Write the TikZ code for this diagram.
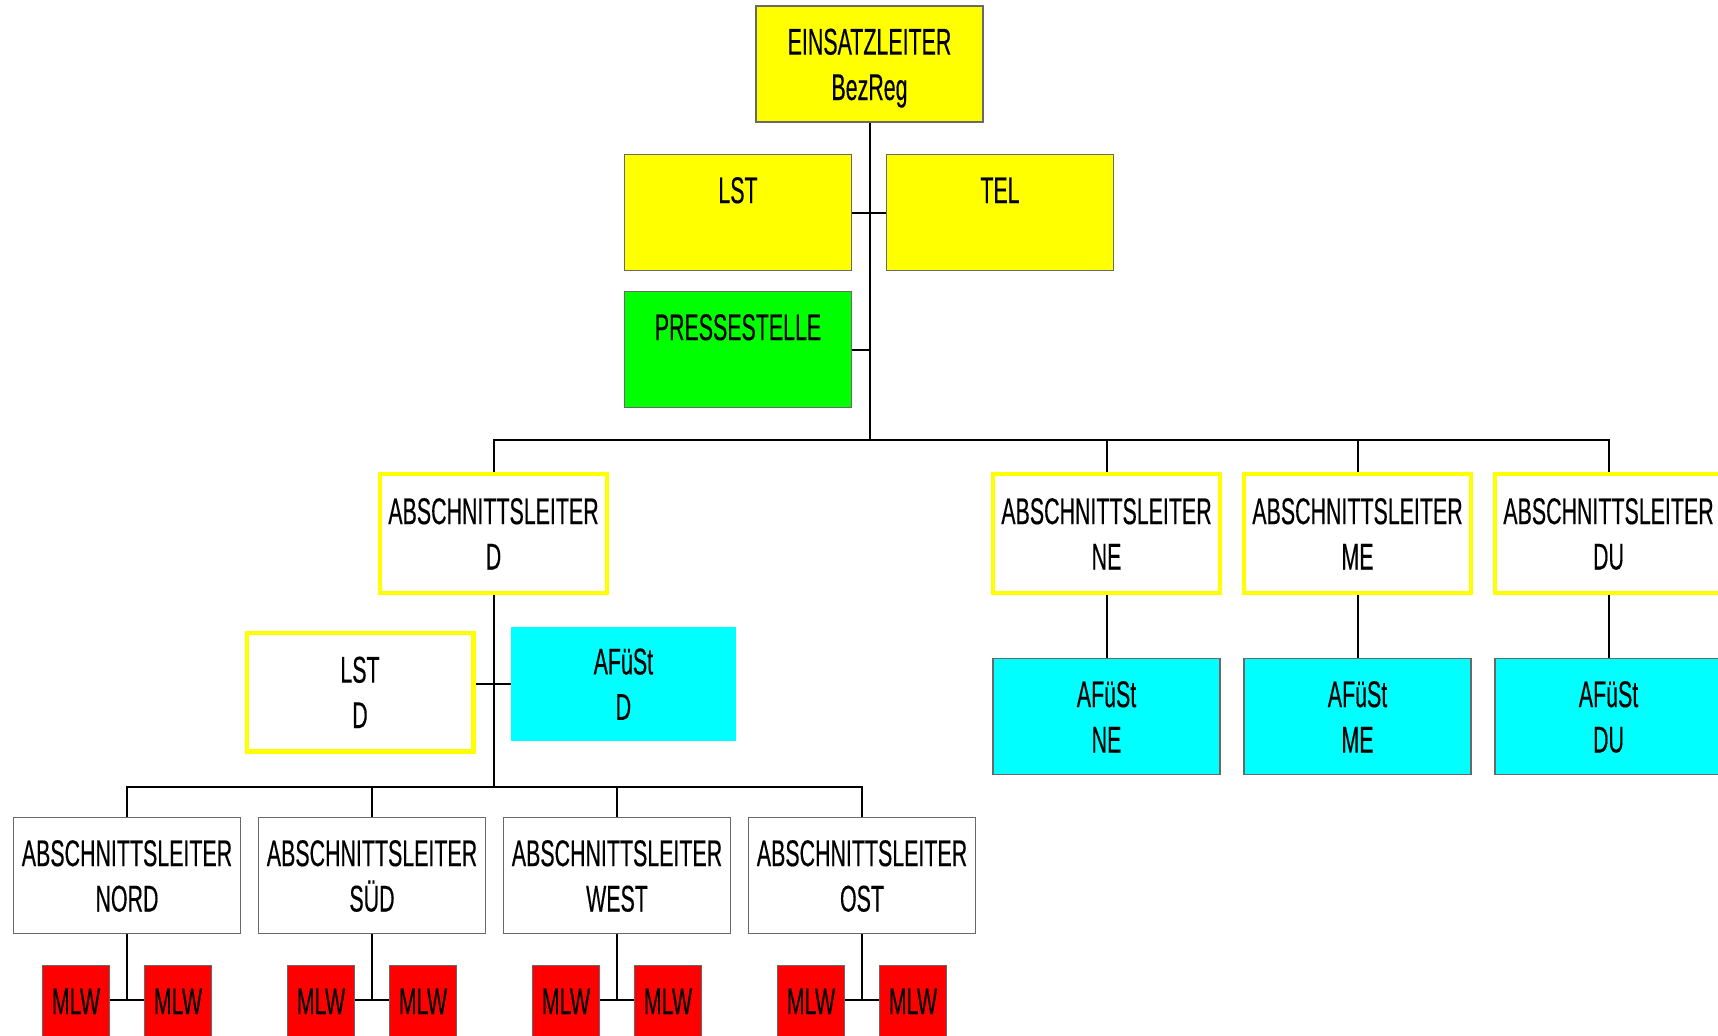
\documentclass[tikz,border=0pt]{standalone}
\usepackage{fontspec}
\setmainfont{Liberation Sans}[FakeStretch=0.575,FakeBold=0.3]
\definecolor{yel}{RGB}{255,255,0}
\definecolor{grn}{RGB}{0,255,0}
\definecolor{cyn}{RGB}{0,255,255}
\definecolor{redbox}{RGB}{255,0,0}
\definecolor{bordergray}{RGB}{105,105,105}
\newcommand\twoline[2]{\rule{0pt}{13.3pt}\smash{#1}\\\smash{#2}}
\tikzset{
  base/.style={inner sep=0pt, align=center, font=\fontsize{18.6}{22.7}\selectfont},
  graybox/.style={base, draw=bordergray, line width=0.7pt, minimum width=113.5pt, minimum height=58pt},
  yelbox/.style={base, draw=yel, line width=2.2pt, fill=white, minimum width=113.3pt, minimum height=59.3pt},
  mlwbox/.style={base, draw=bordergray, line width=0.7pt, fill=redbox, minimum width=33.5pt, minimum height=58pt},
  conn/.style={draw=black, line width=1pt},
}
\begin{document}
\begin{tikzpicture}[x=0.5pt,y=-0.5pt]
\path[use as bounding box] (0,0) rectangle (1718,1035);
\clip (0,0) rectangle (1718,1035);
% top level
\node[graybox, fill=yel] (ein) at (869.5,64) {\twoline{EINSATZLEITER}{BezReg}};
\node[graybox, fill=yel] (lst) at (738,212.5) {\twoline{LST}{}};
\node[graybox, fill=yel] (tel) at (1000,212.5) {\twoline{TEL}{}};
\node[graybox, fill=grn] (presse) at (738,349.5) {\twoline{PRESSESTELLE}{}};
\coordinate (bar) at (869.5,439.5);
% section leaders
\node[yelbox] (abD) at (493.5,533.5) {\twoline{ABSCHNITTSLEITER}{D}};
\node[yelbox] (abNE) at (1106.5,533.5) {\twoline{ABSCHNITTSLEITER}{NE}};
\node[yelbox] (abME) at (1357.5,533.5) {\twoline{ABSCHNITTSLEITER}{ME}};
\node[yelbox] (abDU) at (1608.5,533.5) {\twoline{ABSCHNITTSLEITER}{DU}};
\node[graybox, fill=cyn] (afNE) at (1106.5,716.5) {\twoline{AFüSt}{NE}};
\node[graybox, fill=cyn] (afME) at (1357.5,716.5) {\twoline{AFüSt}{ME}};
\node[graybox, fill=cyn] (afDU) at (1608.5,716.5) {\twoline{AFüSt}{DU}};
\node[yelbox] (lstD) at (360,692) {\twoline{LST}{D}};
\node[base, fill=cyn, minimum width=112.5pt, minimum height=57.25pt] (afD) at (623.4,683.8) {\twoline{AFüSt}{D}};
\coordinate (bar2) at (493.5,786.7);
% connectors, upper part
\draw[conn] (ein.south) -- (bar);
\draw[conn] (lst.east) -- (tel.west);
\draw[conn] (presse.east) -- (presse.east -| ein.south);
\draw[conn] (abD.north) |- (bar) -| (abDU.north);
\draw[conn] (bar) -| (abNE.north);
\draw[conn] (bar) -| (abME.north);
\draw[conn] (abNE.south) -- (afNE.north);
\draw[conn] (abME.south) -- (afME.north);
\draw[conn] (abDU.south) -- (afDU.north);
\draw[conn] (abD.south) -- (bar2);
\draw[conn] (afD.west) -- (afD.west -| lstD.east);
% lower level
\foreach \n/\x/\t in {nord/127/NORD, sued/372/SÜD, west/617/WEST, ost/862/OST} {
  \node[graybox, fill=white] (\n) at (\x,875.5) {\twoline{ABSCHNITTSLEITER}{\t}};
  \node[mlwbox] (\n-l) at (\x-51,1023.5) {\twoline{MLW}{}};
  \node[mlwbox] (\n-r) at (\x+51,1023.5) {\twoline{MLW}{}};
  \coordinate (\n-j) at (\x,1000);
  \draw[conn] (\n.south) -- (\n-j);
  \draw[conn] (\n-l.east |- \n-j) -- (\n-r.west |- \n-j);
}
\draw[conn] (nord.north) |- (bar2) -| (ost.north);
\draw[conn] (bar2) -| (sued.north);
\draw[conn] (bar2) -| (west.north);
\end{tikzpicture}
\end{document}
